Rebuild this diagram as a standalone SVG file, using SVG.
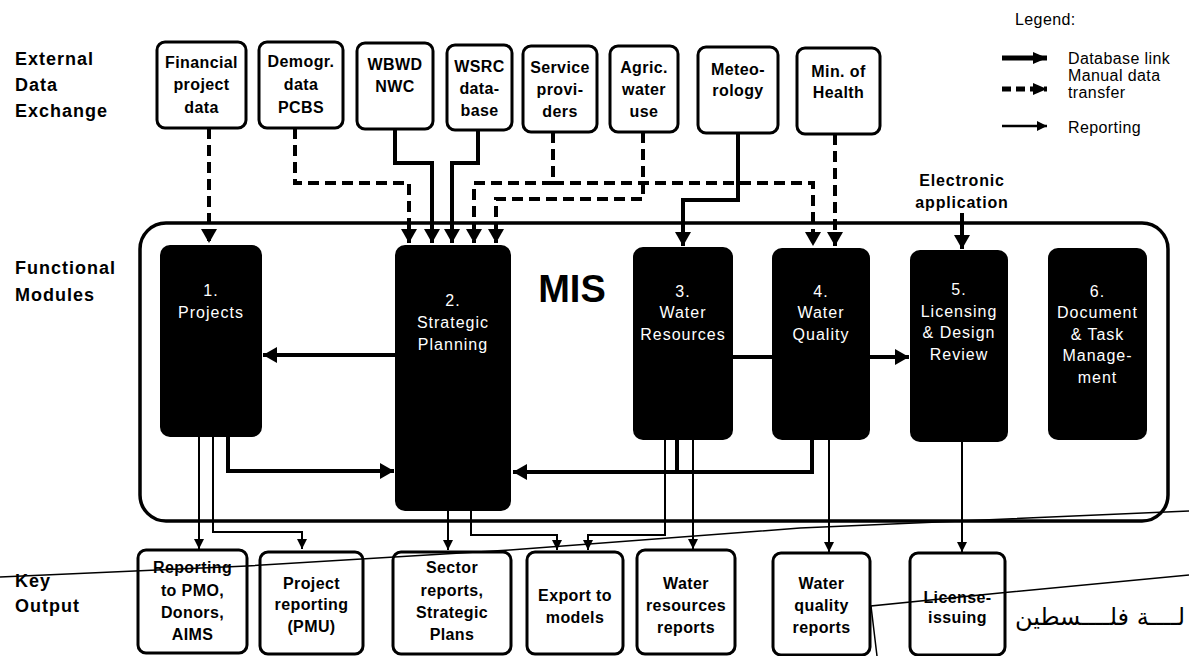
<svg xmlns="http://www.w3.org/2000/svg" width="1189" height="656" viewBox="0 0 1189 656">
<defs>
<style>
.box{fill:#fff;stroke:#000;stroke-width:3}
.mod{fill:#000}
.t{font-family:"Liberation Sans",Arial,sans-serif;font-weight:bold;font-size:16px;text-anchor:middle;letter-spacing:0.4px;fill:#000}
.mt{font-family:"Liberation Sans",Arial,sans-serif;font-size:16px;text-anchor:middle;letter-spacing:1px;fill:#fff}
.lab{font-family:"Liberation Sans",Arial,sans-serif;font-weight:bold;font-size:18px;letter-spacing:1px;fill:#000}
.leg{font-family:"Liberation Sans",Arial,sans-serif;font-size:16px;letter-spacing:0.4px;fill:#000}
.db{fill:none;stroke:#000;stroke-width:4}
.man{fill:none;stroke:#000;stroke-width:4;stroke-dasharray:11 6}
.rep{fill:none;stroke:#000;stroke-width:2}
.scan{fill:none;stroke:#000;stroke-width:1.5}
</style>
<marker id="big" markerUnits="userSpaceOnUse" markerWidth="14" markerHeight="16" viewBox="0 0 14 16" refX="14" refY="8" orient="auto"><path d="M0,0 L14,8 L0,16 z" fill="#000"/></marker>
<marker id="small" markerUnits="userSpaceOnUse" markerWidth="10" markerHeight="10" viewBox="0 0 10 10" refX="10" refY="5" orient="auto"><path d="M0,0 L10,5 L0,10 z" fill="#000"/></marker>
<marker id="leg" markerUnits="userSpaceOnUse" markerWidth="14" markerHeight="12" viewBox="0 0 14 12" refX="14" refY="6" orient="auto"><path d="M0,0 L14,6 L0,12 z" fill="#000"/></marker>
</defs>
<rect width="1189" height="656" fill="#fff"/>

<g id="row-labels">
<text class="lab" x="15" y="65">External</text>
<text class="lab" x="15" y="91">Data</text>
<text class="lab" x="15" y="117">Exchange</text>
<text class="lab" x="15" y="274">Functional</text>
<text class="lab" x="15" y="301">Modules</text>
<text class="lab" x="15" y="587">Key</text>
<text class="lab" x="15" y="612">Output</text>
</g>

<g id="legend">
<text class="leg" x="1015" y="25">Legend:</text>
<line class="db" x1="1002" y1="58" x2="1047" y2="58" marker-end="url(#leg)" style="stroke-width:5"/>
<line class="man" x1="1002" y1="89" x2="1047" y2="89" marker-end="url(#leg)" style="stroke-width:5;stroke-dasharray:9 5"/>
<line class="rep" x1="1002" y1="126" x2="1047" y2="126" marker-end="url(#small)" style="stroke-width:2.5"/>
<text class="leg" x="1068" y="64">Database link</text>
<text class="leg" x="1068" y="81">Manual data</text>
<text class="leg" x="1068" y="98">transfer</text>
<text class="leg" x="1068" y="133">Reporting</text>
</g>

<g id="mis">
<rect x="140" y="223" width="1028" height="298" rx="26" fill="none" stroke="#000" stroke-width="3.5"/>
<text x="572" y="302" font-family="Liberation Sans, Arial, sans-serif" font-weight="bold" font-size="38" text-anchor="middle">MIS</text>
</g>

<g id="ext-financial"><rect class="box" x="157" y="42" width="89" height="86" rx="8"/>
<text class="t" x="201.5" y="68">Financial</text><text class="t" x="201.5" y="90">project</text><text class="t" x="201.5" y="113">data</text></g>
<g id="ext-demogr"><rect class="box" x="259" y="42" width="84" height="86" rx="8"/>
<text class="t" x="301" y="67">Demogr.</text><text class="t" x="301" y="90">data</text><text class="t" x="301" y="113">PCBS</text></g>
<g id="ext-wbwd"><rect class="box" x="357" y="43" width="76" height="86" rx="8"/>
<text class="t" x="395" y="70">WBWD</text><text class="t" x="395" y="92">NWC</text></g>
<g id="ext-wsrc"><rect class="box" x="447" y="45" width="65" height="85" rx="8"/>
<text class="t" x="479.5" y="72">WSRC</text><text class="t" x="479.5" y="94">data-</text><text class="t" x="479.5" y="116">base</text></g>
<g id="ext-service"><rect class="box" x="523" y="46" width="74" height="86" rx="8"/>
<text class="t" x="560" y="73">Service</text><text class="t" x="560" y="95">provi-</text><text class="t" x="560" y="117">ders</text></g>
<g id="ext-agric"><rect class="box" x="610" y="46" width="68" height="86" rx="8"/>
<text class="t" x="644" y="73">Agric.</text><text class="t" x="644" y="95">water</text><text class="t" x="644" y="117">use</text></g>
<g id="ext-meteo"><rect class="box" x="698" y="47" width="80" height="86" rx="8"/>
<text class="t" x="738" y="75">Meteo-</text><text class="t" x="738" y="96">rology</text></g>
<g id="ext-health"><rect class="box" x="797" y="48" width="83" height="86" rx="8"/>
<text class="t" x="838.5" y="77">Min. of</text><text class="t" x="838.5" y="98">Health</text></g>

<g id="electronic-application">
<text class="t" x="962" y="186" style="letter-spacing:0.8px">Electronic</text>
<text class="t" x="962" y="208" style="letter-spacing:0.8px">application</text>
</g>

<g id="mod-1"><rect class="mod" x="160" y="245" width="102" height="192" rx="10"/>
<text class="mt" x="211" y="296">1.</text><text class="mt" x="211" y="318">Projects</text></g>
<g id="mod-2"><rect class="mod" x="395" y="245" width="116" height="266" rx="10"/>
<text class="mt" x="453" y="306">2.</text><text class="mt" x="453" y="328">Strategic</text><text class="mt" x="453" y="350">Planning</text></g>
<g id="mod-3"><rect class="mod" x="633" y="247" width="100" height="193" rx="10"/>
<text class="mt" x="683" y="297">3.</text><text class="mt" x="683" y="318">Water</text><text class="mt" x="683" y="340">Resources</text></g>
<g id="mod-4"><rect class="mod" x="772" y="248" width="98" height="192" rx="10"/>
<text class="mt" x="821" y="297">4.</text><text class="mt" x="821" y="318">Water</text><text class="mt" x="821" y="340">Quality</text></g>
<g id="mod-5"><rect class="mod" x="910" y="250" width="98" height="192" rx="10"/>
<text class="mt" x="959" y="295">5.</text><text class="mt" x="959" y="317">Licensing</text><text class="mt" x="959" y="338">&amp; Design</text><text class="mt" x="959" y="360">Review</text></g>
<g id="mod-6"><rect class="mod" x="1048" y="248" width="99" height="192" rx="10"/>
<text class="mt" x="1097.5" y="297">6.</text><text class="mt" x="1097.5" y="318">Document</text><text class="mt" x="1097.5" y="340">&amp; Task</text><text class="mt" x="1097.5" y="361">Manage-</text><text class="mt" x="1097.5" y="383">ment</text></g>

<g id="out-pmo"><rect class="box" x="138" y="550" width="109" height="103" rx="8"/>
<text class="t" x="192.5" y="573">Reporting</text><text class="t" x="192.5" y="596">to PMO,</text><text class="t" x="192.5" y="618">Donors,</text><text class="t" x="192.5" y="640">AIMS</text></g>
<g id="out-pmu"><rect class="box" x="260" y="552" width="103" height="102" rx="8"/>
<text class="t" x="311.5" y="589">Project</text><text class="t" x="311.5" y="610">reporting</text><text class="t" x="311.5" y="632">(PMU)</text></g>
<g id="out-sector"><rect class="box" x="393" y="552" width="118" height="102" rx="8"/>
<text class="t" x="452" y="573">Sector</text><text class="t" x="452" y="596">reports,</text><text class="t" x="452" y="618">Strategic</text><text class="t" x="452" y="640">Plans</text></g>
<g id="out-export"><rect class="box" x="527" y="552" width="96" height="102" rx="8"/>
<text class="t" x="575" y="601">Export to</text><text class="t" x="575" y="623">models</text></g>
<g id="out-wr"><rect class="box" x="637" y="550" width="98" height="104" rx="8"/>
<text class="t" x="686" y="589">Water</text><text class="t" x="686" y="611">resources</text><text class="t" x="686" y="633">reports</text></g>
<g id="out-wq"><rect class="box" x="773" y="553" width="97" height="102" rx="8"/>
<text class="t" x="821.5" y="589">Water</text><text class="t" x="821.5" y="611">quality</text><text class="t" x="821.5" y="633">reports</text></g>
<g id="out-license"><rect class="box" x="910" y="553" width="95" height="102" rx="8"/>
<text class="t" x="957.5" y="603">License-</text><text class="t" x="957.5" y="623">issuing</text></g>

<g id="connectors">
<path class="man" d="M209,128 V243" marker-end="url(#big)"/>
<path class="man" d="M295,128 V183 H409 V243" marker-end="url(#big)"/>
<path class="db" d="M395,129 V163 H432 V243" marker-end="url(#big)"/>
<path class="db" d="M478,130 V163 H452 V243" marker-end="url(#big)"/>
<path class="man" d="M553,132 V183 H474 V243" marker-end="url(#big)"/>
<path class="man" d="M553,183 H813 V246" marker-end="url(#big)"/>
<path class="man" d="M643,132 V199 H496 V243" marker-end="url(#big)"/>
<path class="db" d="M738,133 V200 H683 V246" marker-end="url(#big)"/>
<path class="man" d="M835,134 V246" marker-end="url(#big)"/>
<path class="db" d="M962,213 V249" marker-end="url(#big)"/>

<path class="db" d="M395,355 H263" marker-end="url(#big)"/>
<path class="db" d="M733,357 H772"/>
<path class="db" d="M870,357 H909" marker-end="url(#big)"/>
<path class="db" d="M228,437 V471 H394" marker-end="url(#big)"/>
<path class="db" d="M677,440 V472"/>
<path class="db" d="M812,440 V472 H513" marker-end="url(#big)"/>

<path class="rep" d="M199,437 V549" marker-end="url(#small)"/>
<path class="rep" d="M213,437 V532 H302 V549" marker-end="url(#small)"/>
<path class="rep" d="M448,511 V550" marker-end="url(#small)"/>
<path class="rep" d="M471,511 V535 H557 V550" marker-end="url(#small)"/>
<path class="rep" d="M665,440 V535 H588 V550" marker-end="url(#small)"/>
<path class="rep" d="M693,440 V549" marker-end="url(#small)"/>
<path class="rep" d="M829,440 V552" marker-end="url(#small)"/>
<path class="rep" d="M962,442 V552" marker-end="url(#small)"/>
</g>

<g id="scan-marks">
<polyline class="scan" points="0,577 247,566 510,550 800,528 1189,511"/>
<polyline class="scan" points="877,656 871,606 1000,593 1189,575"/>
<text x="1185" y="625" font-family="DejaVu Sans, Noto Sans, sans-serif" font-size="24" text-anchor="end">لــــة فلــــسطين</text>
</g>
</svg>
